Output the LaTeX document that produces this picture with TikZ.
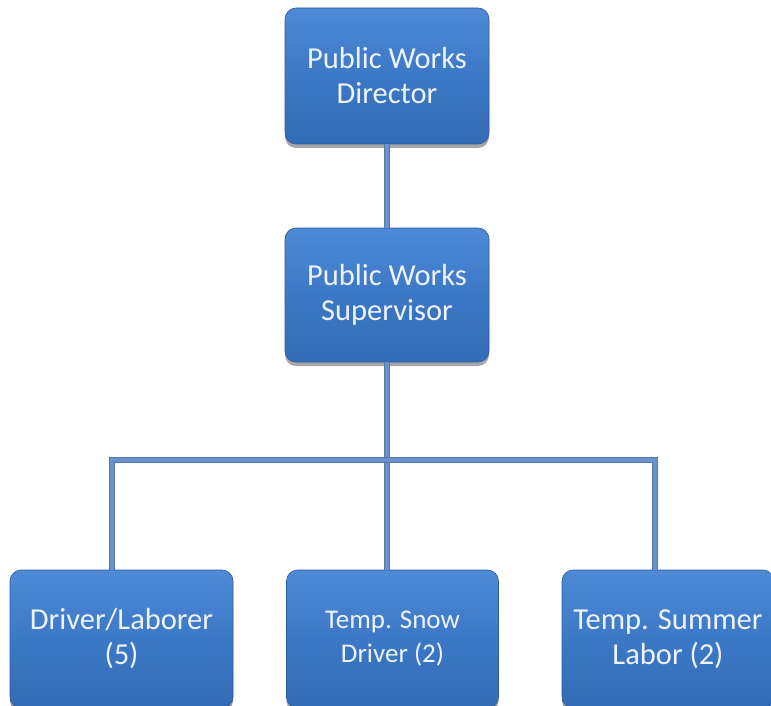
\documentclass[tikz,border=0pt]{standalone}
\usepackage{fontspec}
\setmainfont{Carlito}
\usetikzlibrary{shadows}
\definecolor{boxtop}{HTML}{4E8AD6}
\definecolor{boxmid}{HTML}{3C78C6}
\definecolor{boxbot}{HTML}{336CB6}
\definecolor{boxedge}{HTML}{2B5C9E}
\definecolor{linein}{HTML}{6A93CD}
\definecolor{lineout}{HTML}{5577A8}
\definecolor{txt}{HTML}{EEF3FA}
\tikzset{
  orgbox/.style={rounded corners=11pt, draw=boxedge, line width=0.6pt,
    top color=boxtop, bottom color=boxbot, middle color=boxmid,
    drop shadow={shadow xshift=0pt, shadow yshift=-4pt, opacity=0.35, fill=black},
    text=txt, align=center, inner sep=0pt,
    font=\fontsize{30.5}{35}\selectfont},
  conn/.style={line width=4pt, draw=linein,
    preaction={draw=lineout, line width=6pt}},
}
\begin{document}
\begin{tikzpicture}[x=1pt,y=-1pt]
\useasboundingbox (0,0) rectangle (771,706);
\node[orgbox, minimum width=204pt, minimum height=136pt] (dir) at (387,76) {Public Works\\Director};
\node[orgbox, minimum width=204pt, minimum height=134pt] (sup) at (387,295) {Public Works\\Supervisor};
\node[orgbox, minimum width=223pt, minimum height=138pt] (drv) at (121.5,639) {Driver/Laborer\\(5)};
\node[orgbox, minimum width=212pt, minimum height=138pt, font=\fontsize{27}{34}\selectfont] (snow) at (392.5,639) {Temp. Snow\\Driver (2)};
\node[orgbox, minimum width=212pt, minimum height=138pt] (sum) at (668,639) {Temp. Summer\\Labor (2)};
\coordinate (j) at (387,460);
\draw[conn] (dir.south) -- (sup.north);
\draw[conn] (sup.south) -- (sup.south |- snow.north);
\draw[conn] ([xshift=-9.5pt]drv.north) -- ([xshift=-9.5pt]drv.north |- j) -- ([xshift=-13pt]sum.north |- j) -- ([xshift=-13pt]sum.north);
\end{tikzpicture}
\end{document}
